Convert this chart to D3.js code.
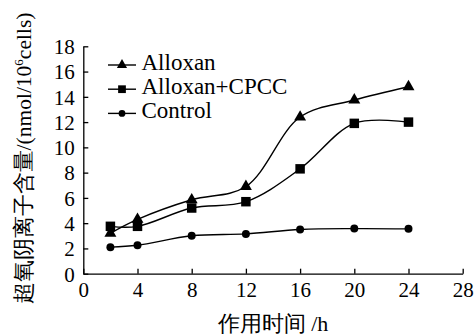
<!DOCTYPE html>
<html>
<head>
<meta charset="utf-8">
<script src="https://cdn.jsdelivr.net/npm/d3@7"></script>
</head>
<body style="margin:0;background:#fff">
<svg id="chart" width="474" height="336"></svg>
<script>
const hours = [2, 4, 8, 12, 16, 20, 24];
const alloxan = [3.2, 4.3, 5.85, 6.9, 12.4, 13.75, 14.8];
const alloxanCPCC = [3.75, 3.75, 5.2, 5.7, 8.3, 11.9, 12.0];
const control = [2.1, 2.25, 3.0, 3.15, 3.5, 3.57, 3.55];
const seriesNames = ["Alloxan", "Alloxan+CPCC", "Control"];
const xTicks = [0, 4, 8, 12, 16, 20, 24, 28];
const yTicks = [0, 2, 4, 6, 8, 10, 12, 14, 16, 18];

const FONT = '"Liberation Serif"';
const svg = d3.select("#chart");
const x = d3.scaleLinear().domain([0, 28]).range([83.3, 462.7]);
const y = d3.scaleLinear().domain([0, 18]).range([273.7, 46.3]);

const tickFs = 21;

const xAxis = d3.axisBottom(x).tickValues(xTicks).tickSizeInner(-5).tickSizeOuter(0).tickPadding(8.4);
const yAxis = d3.axisLeft(y).tickValues(yTicks).tickSizeInner(-5).tickSizeOuter(0).tickPadding(8.5);

const gx = svg.append("g").attr("transform", `translate(0,${y(0)})`).call(xAxis);
const gy = svg.append("g").attr("transform", `translate(${x(0)},0)`).call(yAxis);
[gx, gy].forEach(g => {
  g.attr("font-family", null);
  g.select(".domain").attr("stroke", "#000").attr("stroke-width", 1.3);
  g.selectAll(".tick line").attr("stroke", "#000").attr("stroke-width", 1.3);
  g.selectAll(".tick text").attr("font-size", tickFs).attr("fill", "#000").style("font-family", FONT);
});
gx.selectAll(".tick text").attr("dy", "0.71em");
gy.selectAll(".tick text").attr("dy", "0.35em");

const line = d3.line().x(d => x(d[0])).y(d => y(d[1])).curve(d3.curveCatmullRom.alpha(0.5));
const data = [alloxan, alloxanCPCC, control].map(vals => hours.map((h, i) => [h, vals[i]]));
const symbols = [d3.symbolTriangle, d3.symbolSquare, d3.symbolCircle];
const sizes = [62, 90, 50];

data.forEach((pts, k) => {
  svg.append("path").attr("d", line(pts)).attr("fill", "none").attr("stroke", "#000").attr("stroke-width", 1.4);
  svg.append("g").selectAll("path").data(pts).join("path")
    .attr("transform", d => `translate(${x(d[0])},${y(d[1])})`)
    .attr("d", d3.symbol().type(symbols[k]).size(sizes[k]))
    .attr("fill", "#000");
});

const legendSizes = [45, 60, 36];
const legend = svg.append("g");
seriesNames.forEach((name, k) => {
  const base = 70 + k * 24.2;
  const cy = base - 5;
  legend.append("line").attr("x1", 108).attr("x2", 136).attr("y1", cy).attr("y2", cy)
    .attr("stroke", "#000").attr("stroke-width", 1.4);
  legend.append("path").attr("transform", `translate(122,${cy})`)
    .attr("d", d3.symbol().type(symbols[k]).size(legendSizes[k])).attr("fill", "#000");
  legend.append("text").attr("x", 141.5).attr("y", base)
    .attr("font-size", 23).style("font-family", FONT).text(name);
});

svg.append("text").attr("x", 273).attr("y", 331).attr("text-anchor", "middle")
  .attr("font-size", 22).style("font-family", FONT).text("作用时间 /h");

const yl = svg.append("text")
  .attr("transform", "translate(31,158.5) rotate(-90)")
  .attr("text-anchor", "middle").attr("font-size", 21.5).style("font-family", FONT);
yl.append("tspan").text("超氧阴离子含量/(nmol/10");
yl.append("tspan").attr("font-size", 13).attr("dy", -8).text("6");
yl.append("tspan").attr("dy", 8).text("cells)");
</script>
</body>
</html>
